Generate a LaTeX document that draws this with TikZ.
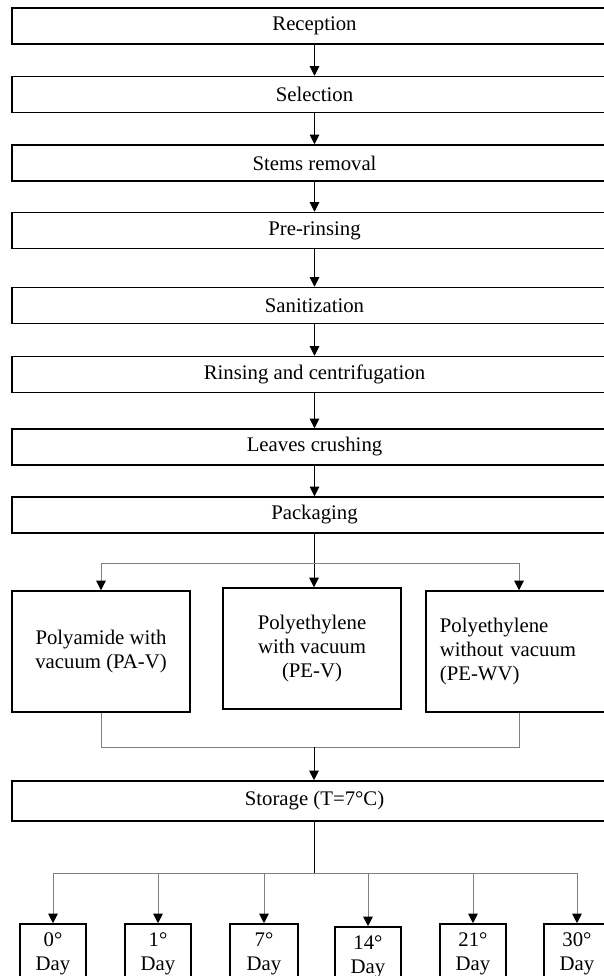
\documentclass[tikz,border=0pt]{standalone}
\usepackage{fontspec}
\setmainfont{Liberation Serif}
\usetikzlibrary{arrows.meta}
\definecolor{linkgray}{RGB}{128,128,128}

\tikzset{
	stagebox/.style={draw, line width=1pt, minimum width=13.31cm, minimum height=0.79cm, inner sep=0pt},
	packbox/.style={draw, line width=1pt, minimum width=3.92cm, minimum height=2.66cm, align=center, inner sep=0pt},
	daybox/.style={draw, line width=1pt, minimum width=1.45cm, minimum height=1.32cm, align=center, inner sep=0pt},
	arr/.style={-{Triangle[width=6pt, length=6pt, black]}, line width=0.6pt},
	linkline/.style={line width=0.6pt, color=linkgray}
}

\begin{document}
\begin{tikzpicture}[x=0.022cm, y=-0.022cm, every node/.style={font=\fontsize{13}{15}\selectfont}]
		\useasboundingbox (0,0) rectangle (604,976);
		\clip (0,0) rectangle (604,976);
		
		% process steps
		\node[stagebox] (rec) at (314.5,26) {Reception};
		\node[stagebox] (sel) at (314.5,94.5) {Selection};
		\node[stagebox] (stem) at (314.5,163) {Stems removal};
		\node[stagebox] (prer) at (314.5,230.5) {Pre-rinsing};
		\node[stagebox] (sani) at (314.5,305.5) {Sanitization};
		\node[stagebox] (rins) at (314.5,374.5) {Rinsing and centrifugation};
		\node[stagebox] (leaf) at (314.5,447) {Leaves crushing};
		\node[stagebox] (pack) at (314.5,515) {Packaging};
		
		% packaging types
		\node[packbox] (pa) at (101,651.5) {Polyamide with\\vacuum (PA-V)};
		\node[packbox] (pe) at (312,648.5) {Polyethylene\\with vacuum\\(PE-V)};
		\node[packbox, minimum width=0pt, text width=3.48cm, inner xsep=0.31cm, align=left] (pewv) at (519,651.5) {Polyethylene\\without vacuum\\(PE-WV)};
		
		\node[stagebox, minimum height=0.88cm] (store) at (314.5,801) {Storage (T=7°C)};
		
		% storage days
		\node[daybox] (d0) at (53,954) {0°\\Day};
		\node[daybox] (d1) at (158,954) {1°\\Day};
		\node[daybox, minimum width=1.49cm] (d7) at (264,954) {7°\\Day};
		\node[daybox] (d14) at (368,957) {14°\\Day};
		\node[daybox] (d21) at (473,954) {21°\\Day};
		\node[daybox] (d30) at (577,954) {30°\\Day};
		
		\coordinate (split1) at (314,563);
		\coordinate (join) at (314,747);
		\coordinate (split2) at (314,873);
		
		\draw[arr] (rec) -- (sel);
		\draw[arr] (sel) -- (stem);
		\draw[arr] (stem) -- (prer);
		\draw[arr] (prer) -- (sani);
		\draw[arr] (sani) -- (rins);
		\draw[arr] (rins) -- (leaf);
		\draw[arr] (leaf) -- (pack);
		
		\draw[arr] (pack.south -| split1) -- (split1 |- pe.north);
		\draw[linkline] (pa.north |- split1) -- (pewv.north |- split1);
		\draw[linkline, arr, color=linkgray] (pa.north |- split1) -- (pa.north);
		\draw[linkline, arr, color=linkgray] (pewv.north |- split1) -- (pewv.north);
		
		\draw[linkline] (pa.south) -- (pa.south |- join) -- (pewv.south |- join) -- (pewv.south);
		\draw[arr] (join) -- (join |- store.north);
		
		\draw[line width=0.6pt] (store.south -| split2) -- (split2);
		\draw[linkline] (d0.north |- split2) -- (d30.north |- split2);
		\draw[linkline, arr, color=linkgray] (d0.north |- split2) -- (d0.north);
		\draw[linkline, arr, color=linkgray] (d1.north |- split2) -- (d1.north);
		\draw[linkline, arr, color=linkgray] (d7.north |- split2) -- (d7.north);
		\draw[linkline, arr, color=linkgray] (d14.north |- split2) -- (d14.north);
		\draw[linkline, arr, color=linkgray] (d21.north |- split2) -- (d21.north);
		\draw[linkline, arr, color=linkgray] (d30.north |- split2) -- (d30.north);
\end{tikzpicture}
\end{document}
